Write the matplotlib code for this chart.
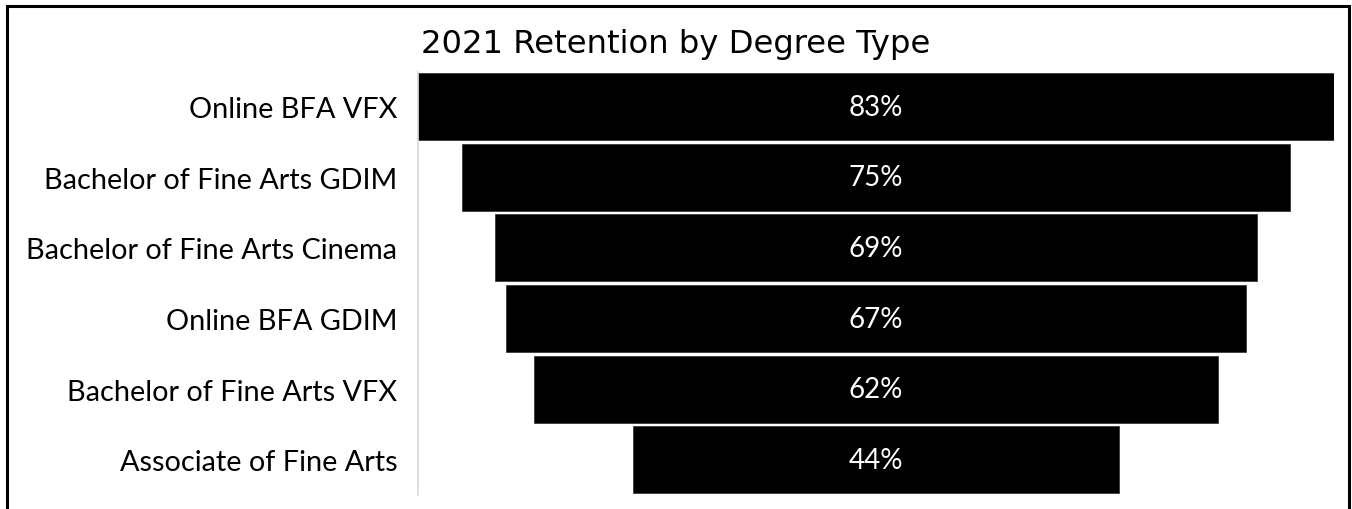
import matplotlib
matplotlib.use("Agg")
import matplotlib.pyplot as plt
from matplotlib.patches import Rectangle

degrees = [
    "Online BFA VFX",
    "Bachelor of Fine Arts GDIM",
    "Bachelor of Fine Arts Cinema",
    "Online BFA GDIM",
    "Bachelor of Fine Arts VFX",
    "Associate of Fine Arts",
]
retention = [83, 75, 69, 67, 62, 44]
title = "2021 Retention by Degree Type"

label_font = "Lato"

fig = plt.figure(figsize=(13.52, 5.1), dpi=100)
ax = fig.add_axes([418 / 1352, 1 - 496 / 510, 916 / 1352, 423.5 / 510])

# funnel: each bar centred on zero
ypos = list(range(len(degrees)))
lefts = [-v / 2 for v in retention]
ax.barh(ypos, retention, left=lefts, height=0.95, color="black",
        edgecolor="#3a3a3a", linewidth=0.6)

for y, v in zip(ypos, retention):
    ax.text(0, y, f"{v}%", color="white", ha="center", va="center",
            fontsize=20, family=label_font)

ax.set_xlim(-41.5, 41.5)
ax.set_ylim(len(degrees) - 0.5, -0.5)
ax.set_yticks(ypos)
ax.set_yticklabels(degrees, fontsize=20.8, family=label_font)
ax.tick_params(axis="y", length=0, pad=15)
ax.set_xticks([])
for side in ["top", "right", "bottom"]:
    ax.spines[side].set_visible(False)
ax.spines["left"].set_color("#d9d9d9")
ax.spines["left"].set_linewidth(1.2)

fig.text(0.5, 1 - 52.5 / 510, title, ha="center", va="baseline",
         fontsize=23.2, family="DejaVu Sans")

# outer frame (bottom edge falls just outside the image)
fig.patches.append(Rectangle((6.5 / 1352, -5 / 510), 1342 / 1352, 508.5 / 510,
                             transform=fig.transFigure, fill=False,
                             edgecolor="black", linewidth=2.2))

fig.savefig("out.png", dpi=100)
